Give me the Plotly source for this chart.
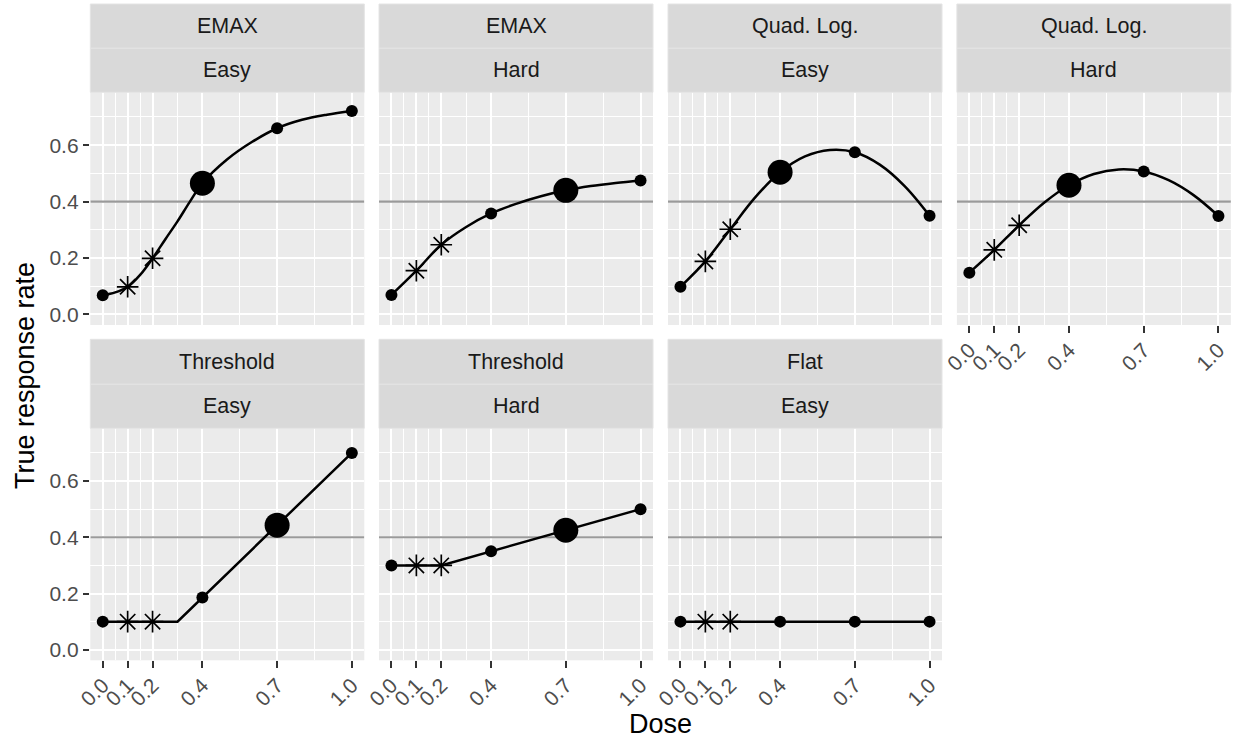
import plotly.graph_objects as go

# ---------------- data ----------------
doses = [0.0, 0.1, 0.2, 0.4, 0.7, 1.0]
dose_labels = ["0.0", "0.1", "0.2", "0.4", "0.7", "1.0"]
y_ticks = [0.0, 0.2, 0.4, 0.6]
y_tick_labels = ["0.0", "0.2", "0.4", "0.6"]
x_minor = [0.05, 0.15, 0.3, 0.55, 0.85]
y_minor = [0.1, 0.3, 0.5, 0.7]
x_range = [-0.05, 1.05]
y_range = [-0.0375, 0.7875]
target_rate = 0.4

models = ["EMAX", "EMAX", "Quad. Log.", "Quad. Log.", "Threshold", "Threshold", "Flat"]
difficulty = ["Easy", "Hard", "Easy", "Hard", "Easy", "Hard", "Easy"]

# observed points at each dose
emax_easy_pts = [0.068, 0.098, 0.199, 0.465, 0.660, 0.721]
emax_hard_pts = [0.069, 0.155, 0.247, 0.358, 0.440, 0.475]
quad_easy_pts = [0.098, 0.188, 0.302, 0.504, 0.575, 0.350]
quad_hard_pts = [0.148, 0.229, 0.316, 0.458, 0.507, 0.349]
thr_easy_pts = [0.100, 0.100, 0.100, 0.186, 0.443, 0.700]
thr_hard_pts = [0.300, 0.300, 0.300, 0.350, 0.425, 0.500]
flat_easy_pts = [0.100, 0.100, 0.100, 0.100, 0.100, 0.100]

# true curves
curve_doses = [0.0, 0.1, 0.2, 0.3, 0.4, 0.5, 0.6, 0.7, 0.8, 0.9, 1.0]
emax_easy_curve_d = [0.0, 0.05, 0.1, 0.15, 0.2, 0.25, 0.3, 0.35, 0.4, 0.5, 0.6, 0.7, 0.8, 0.9, 1.0]
emax_easy_curve = [0.068, 0.078, 0.098, 0.14, 0.199, 0.265, 0.33, 0.40, 0.465, 0.55, 0.612, 0.66, 0.69, 0.708, 0.721]
emax_hard_curve = [0.069, 0.155, 0.247, 0.310, 0.358, 0.392, 0.419, 0.440, 0.455, 0.466, 0.475]
quad_easy_curve = [0.098, 0.188, 0.302, 0.415, 0.504, 0.560, 0.583, 0.575, 0.531, 0.455, 0.350]
quad_hard_curve = [0.148, 0.229, 0.316, 0.396, 0.458, 0.498, 0.514, 0.507, 0.476, 0.423, 0.349]
thr_easy_curve_d = [0.0, 0.3, 1.0]
thr_easy_curve = [0.1, 0.1, 0.7]
thr_hard_curve_d = [0.0, 0.2, 1.0]
thr_hard_curve = [0.3, 0.3, 0.5]
flat_curve_d = [0.0, 1.0]
flat_curve = [0.1, 0.1]

points = [emax_easy_pts, emax_hard_pts, quad_easy_pts, quad_hard_pts,
          thr_easy_pts, thr_hard_pts, flat_easy_pts]
curves_x = [emax_easy_curve_d, curve_doses, curve_doses, curve_doses,
            thr_easy_curve_d, thr_hard_curve_d, flat_curve_d]
curves_y = [emax_easy_curve, emax_hard_curve, quad_easy_curve, quad_hard_curve,
            thr_easy_curve, thr_hard_curve, flat_curve]
curve_shape = ["spline", "spline", "spline", "spline", "linear", "linear", "linear"]
star_doses = [0.1, 0.2]
big_dose = [0.4, 0.7, 0.4, 0.4, 0.7, 0.7, None]

# ---------------- layout geometry (pixels) ----------------
W, H = 1235, 742
col_left = [90.3, 379.0, 668.0, 956.9]
panel_w = 274.0
row_panel = [(92.3, 325.0), (428.3, 660.3)]
row_strip = [(4.0, 48.3, 92.3), (339.3, 384.3, 428.3)]

FONT = "Liberation Sans, Arial, Helvetica, sans-serif"
TICK_FONT = dict(family=FONT, size=21, color="#4D4D4D")

fig = go.Figure()
layout = dict(
    width=W, height=H, margin=dict(l=0, r=0, t=0, b=0, autoexpand=False),
    paper_bgcolor="white", plot_bgcolor="#EBEBEB", showlegend=False,
    font=dict(family=FONT),
)
shapes = []
annotations = []

for i in range(7):
    r, c = divmod(i, 4)
    n = "" if i == 0 else str(i + 1)
    xa, ya = "x" + n, "y" + n
    left = col_left[c]
    top, bottom = row_panel[r]
    xdom = [left / W, (left + panel_w) / W]
    ydom = [1 - bottom / H, 1 - top / H]
    show_x = (r == 1) or (i == 3)
    show_y = (c == 0)
    layout["xaxis" + n] = dict(
        domain=xdom, anchor=ya, range=x_range, automargin=False,
        tickmode="array", tickvals=doses, ticktext=dose_labels,
        showticklabels=show_x, ticks="outside" if show_x else "",
        ticklen=6.5, tickwidth=2, tickcolor="#333333",
        tickangle=-45, tickfont=TICK_FONT, ticklabelstandoff=-3,
        showgrid=True, gridcolor="white", gridwidth=2.2, zeroline=False,
        showline=False,
        minor=dict(tickvals=x_minor, showgrid=True, gridcolor="white", gridwidth=1.1),
    )
    layout["yaxis" + n] = dict(
        domain=ydom, anchor=xa, range=y_range, automargin=False,
        tickmode="array", tickvals=y_ticks, ticktext=y_tick_labels,
        showticklabels=show_y, ticks="outside" if show_y else "",
        ticklen=6.5, tickwidth=2, tickcolor="#333333", tickfont=TICK_FONT,
        showgrid=True, gridcolor="white", gridwidth=2.2, zeroline=False,
        showline=False,
        minor=dict(tickvals=y_minor, showgrid=True, gridcolor="white", gridwidth=1.1),
    )

    # strips
    s_top, s_mid, s_bot = row_strip[r]
    for (t0, t1, label) in [(s_top, s_mid, models[i]), (s_mid, s_bot, difficulty[i])]:
        shapes.append(dict(type="rect", xref="paper", yref="paper",
                           x0=xdom[0], x1=xdom[1], y0=1 - t1 / H, y1=1 - t0 / H,
                           fillcolor="#D9D9D9", line=dict(color="#E4E4E4", width=1)))
        annotations.append(dict(text=label, xref="paper", yref="paper",
                                x=(xdom[0] + xdom[1]) / 2, y=1 - (t0 + t1) / 2 / H,
                                showarrow=False, xanchor="center", yanchor="middle",
                                font=dict(family=FONT, size=21.5, color="#1A1A1A")))

    # target line (spans the full axis range), drawn first so the curve is above it
    fig.add_trace(go.Scatter(x=x_range, y=[target_rate, target_rate], mode="lines",
                             line=dict(color="#9A9A9A", width=2.2),
                             xaxis=xa, yaxis=ya, hoverinfo="skip", cliponaxis=True))
    # curve
    fig.add_trace(go.Scatter(x=curves_x[i], y=curves_y[i], mode="lines",
                             line=dict(color="black", width=2.5, shape=curve_shape[i],
                                       smoothing=1.0),
                             xaxis=xa, yaxis=ya, hoverinfo="skip"))
    # points
    small_x, small_y, star_x, star_y, big_x, big_y = [], [], [], [], [], []
    for d, v in zip(doses, points[i]):
        if d in star_doses:
            star_x.append(d); star_y.append(v)
        elif big_dose[i] is not None and d == big_dose[i]:
            big_x.append(d); big_y.append(v)
        else:
            small_x.append(d); small_y.append(v)
    fig.add_trace(go.Scatter(x=small_x, y=small_y, mode="markers",
                             marker=dict(symbol="circle", size=12, color="black",
                                         line=dict(width=0)),
                             xaxis=xa, yaxis=ya))
    fig.add_trace(go.Scatter(x=star_x, y=star_y, mode="markers",
                             marker=dict(symbol="asterisk-open", size=18, color="black",
                                         line=dict(width=1.7, color="black")),
                             xaxis=xa, yaxis=ya))
    if big_x:
        fig.add_trace(go.Scatter(x=big_x, y=big_y, mode="markers",
                                 marker=dict(symbol="circle", size=25, color="black",
                                             line=dict(width=0)),
                                 xaxis=xa, yaxis=ya))

# axis titles
annotations.append(dict(text="True response rate", xref="paper", yref="paper",
                        x=25 / W, y=1 - 376 / H, textangle=-90, showarrow=False,
                        xanchor="center", yanchor="middle",
                        font=dict(family=FONT, size=27, color="black")))
annotations.append(dict(text="Dose", xref="paper", yref="paper",
                        x=660 / W, y=1 - 724 / H, showarrow=False,
                        xanchor="center", yanchor="middle",
                        font=dict(family=FONT, size=27, color="black")))

layout["shapes"] = shapes
layout["annotations"] = annotations
fig.update_layout(**layout)
fig.write_html("out.html")
